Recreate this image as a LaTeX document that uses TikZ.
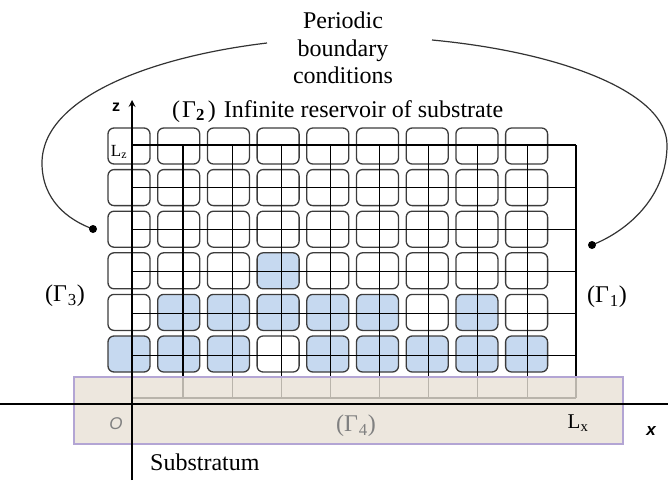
\documentclass[tikz,border=0pt]{standalone}
\usepackage{fontspec}
\setmainfont{Liberation Serif}
\setsansfont{Liberation Sans}
\usetikzlibrary{arrows}
\definecolor{cellblue}{HTML}{C6D9F0}
\definecolor{cellline}{HTML}{3C3C3C}
\definecolor{sandfill}{HTML}{E8E1D6}
\definecolor{sandline}{HTML}{B3A5D4}

\begin{document}
\begin{tikzpicture}[x=1pt,y=-1pt]
\tikzstyle{cell} = [rectangle, rounded corners=6pt, minimum width=42pt, minimum height=36pt, draw=cellline, line width=1.3pt, inner sep=0pt]
\tikzstyle{gridline} = [line width=1.1pt, black]
\tikzstyle{axis} = [line width=2pt, black]
\tikzstyle{bigtext} = [inner sep=0pt, font=\fontsize{24}{27.5}\selectfont]
\tikzstyle{bendline} = [line width=1.2pt, black!80]
% occupied cells (row-column)
\tikzset{occ 4-4/.style={fill=cellblue},
  occ 5-2/.style={fill=cellblue}, occ 5-3/.style={fill=cellblue}, occ 5-4/.style={fill=cellblue},
  occ 5-5/.style={fill=cellblue}, occ 5-6/.style={fill=cellblue}, occ 5-8/.style={fill=cellblue},
  occ 6-1/.style={fill=cellblue}, occ 6-2/.style={fill=cellblue}, occ 6-3/.style={fill=cellblue},
  occ 6-5/.style={fill=cellblue}, occ 6-6/.style={fill=cellblue}, occ 6-7/.style={fill=cellblue},
  occ 6-8/.style={fill=cellblue}, occ 6-9/.style={fill=cellblue}}

\useasboundingbox (0,0) rectangle (668,480);

% cells
\foreach \r in {1,...,6}
  \foreach \c in {1,...,9}
    \node (cell-\r-\c) [cell, occ \r-\c/.try] at ({129+49.7*(\c-1)}, {146+41.6*(\r-1)}) {};

% grid
\foreach \i in {0,...,7}
  \draw [gridline] ({183+49.15*\i},145) -- ({183+49.15*\i},398);
\draw [gridline] (576,145) -- (576,398);
\foreach \j in {0,...,6}
  \draw [gridline] (132,{145+42.17*\j}) -- (576,{145+42.17*\j});

% substratum
\draw [draw=sandline, fill=sandfill, fill opacity=0.8, line width=1.8pt] (74,377) rectangle (623,444);

% axes
\coordinate (xstart) at (0,404);
\coordinate (xend) at (668,404);
\coordinate (zstart) at (132,480);
\coordinate (ztip) at (132,100);
\draw [axis] (xstart) -- (xend);
\draw [axis, ->, >=stealth] (zstart) -- (ztip);

\node (zlab) [font=\sffamily\bfseries\fontsize{16}{16}\selectfont] at (116,107) {z};
\node (xlab) [font=\sffamily\bfseries\itshape\fontsize{17}{17}\selectfont] at (651,431) {x};
\node (origin) [text=gray, font=\sffamily\itshape\fontsize{17}{17}\selectfont] at (116,424) {O};
\node (lz) [font=\fontsize{17}{17}\selectfont] at (119,152) {L\textsubscript{z}};
\node (lx) [font=\fontsize{21}{21}\selectfont] at (578,423) {L\textsubscript{x}};

% boundaries
\node (pbc) [bigtext, align=center] at (343,48) {Periodic\\boundary\\conditions};
\node (gtop) [bigtext, anchor=base west] at (172,117) {(\hspace{2pt}Γ\textsubscript{\textbf{2}}\hspace{3pt})\hspace{8pt}Infinite reservoir of substrate};
\node (gright) [bigtext] at (607,297) {(Γ\hspace{1pt}\textsubscript{1})};
\node (gleft) [bigtext] at (65,296) {(Γ\hspace{1pt}\textsubscript{3})};
\node (gbottom) [bigtext, text=gray] at (356,426) {(Γ\hspace{1pt}\textsubscript{4})};
\node (sub) [bigtext, anchor=base west] at (150,470) {Substratum};

% periodic arcs
\coordinate (lstart) at (267,43);
\coordinate (ldot) at (93,229);
\coordinate (rstart) at (432,40);
\coordinate (rdot) at (592,245);
\draw [bendline] (lstart) .. controls (150,57) and (42,98) .. (42,163) .. controls (42,200) and (68,220) .. (ldot);
\draw [bendline] (rstart) .. controls (560,52) and (667,92) .. (667,145) .. controls (667,195) and (630,230) .. (rdot);
\fill (ldot) circle (4);
\fill (rdot) circle (4);
\end{tikzpicture}
\end{document}
